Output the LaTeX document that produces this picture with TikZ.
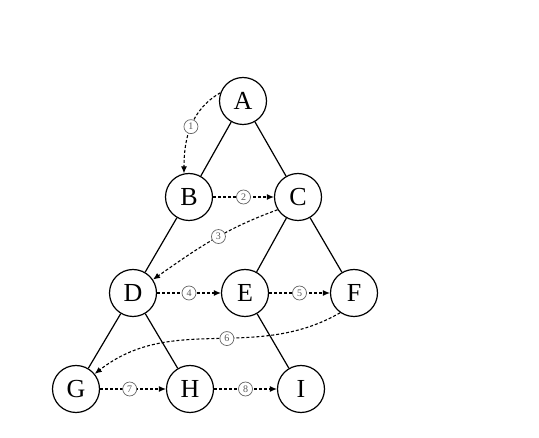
\documentclass[tikz,border=0pt]{standalone}
\usepackage{fontspec}
\setmainfont{Liberation Serif}
\usetikzlibrary{arrows.meta}

\begin{document}
\begin{tikzpicture}[x=1pt,y=1pt,
    vertex/.style={draw,circle,line width=1.2pt,minimum size=47pt,inner sep=0pt,font=\fontsize{26}{26}\selectfont},
    tree/.style={line width=1.2pt},
    visit/.style={dash pattern=on 3pt off 2pt,line width=1.1pt,-{Latex[length=7pt,width=6pt]}},
    order/.style={draw=black!60,solid,circle,fill=white,inner sep=0pt,minimum size=14pt,line width=0.7pt,font=\fontsize{10}{10}\selectfont,text=black!65}]
  \useasboundingbox (0,0) rectangle (539,-438);
  % the tree
  \node[vertex] (A) at (243,-101) {A};
  \node[vertex] (B) at (189,-197) {B};
  \node[vertex] (C) at (298,-197) {C};
  \node[vertex] (D) at (133,-293) {D};
  \node[vertex] (E) at (245,-293) {E};
  \node[vertex] (F) at (354,-293) {F};
  \node[vertex] (G) at (76,-389) {G};
  \node[vertex] (H) at (190,-389) {H};
  \node[vertex] (I) at (301,-389) {I};
  \foreach \a/\b in {A/B,A/C,B/D,C/E,C/F,D/G,D/H,E/I}
    \draw[tree] (\a) -- (\b);
  % level order
  \draw[visit] (A.160) to[out=210,in=90] node[order,pos=0.5]{1} (B.102);
  \draw[visit] (B) -- node[order]{2} (C);
  \draw[visit] (C.212) to[out=200,in=35] node[order,pos=0.45]{3} (D.34);
  \draw[visit] (D) -- node[order]{4} (E);
  \draw[visit] (E) -- node[order]{5} (F);
  \draw[visit] (F.235) to[out=210,in=38] node[order,pos=0.45]{6} (G.39);
  \draw[visit] (G) -- node[order,pos=0.45]{7} (H);
  \draw[visit] (H) -- node[order]{8} (I);
\end{tikzpicture}
\end{document}
